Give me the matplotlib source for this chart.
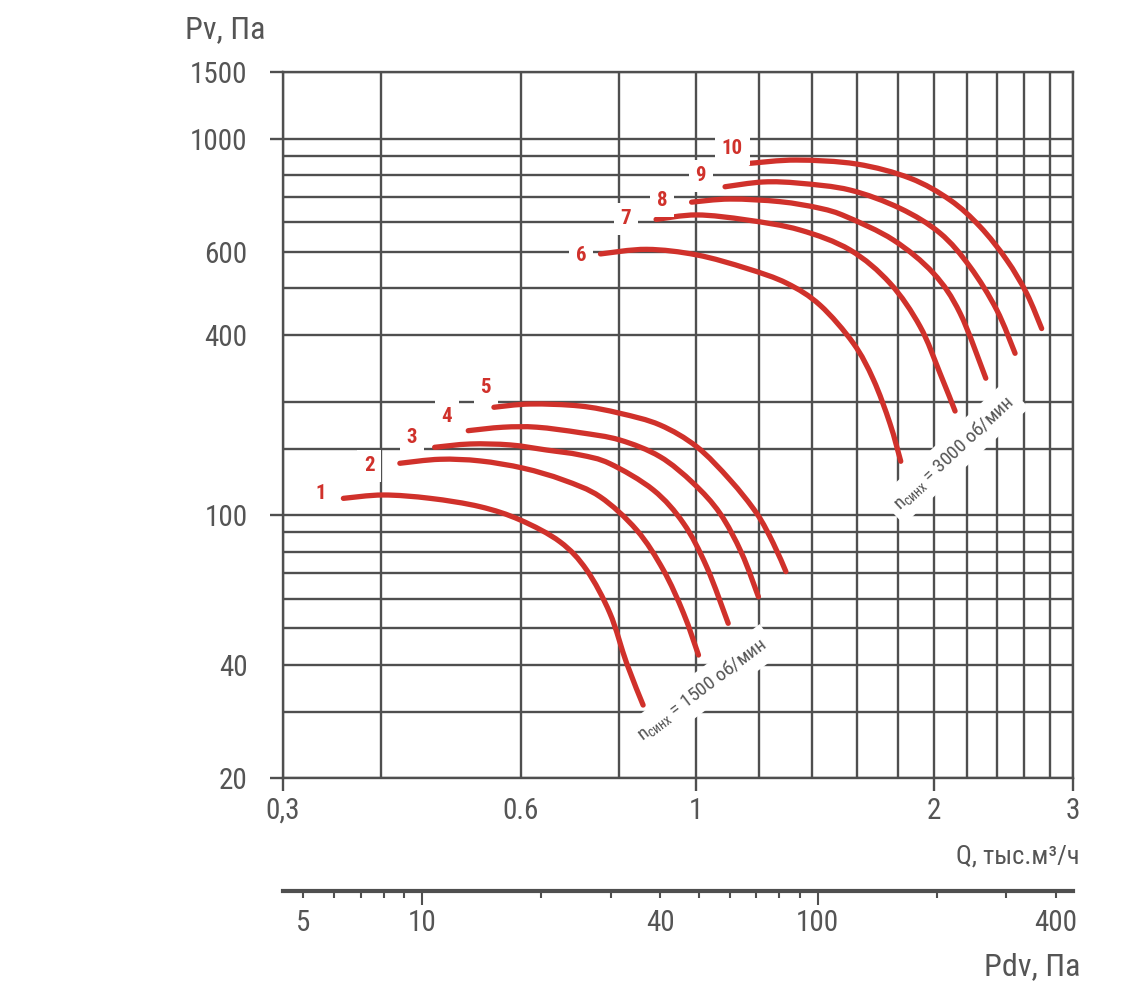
import os
import numpy as np
import matplotlib
matplotlib.use('Agg')
import matplotlib.pyplot as plt
from matplotlib import font_manager
from matplotlib.path import Path
from matplotlib.patches import PathPatch

# fan curves: Q in thousand m3/h, Pv in Pa
q1 = [0.358, 0.402, 0.461, 0.533, 0.599, 0.673, 0.727, 0.778, 0.817, 0.857]
p1 = [110.8, 113.1, 110.8, 105.3, 97.1, 84.9, 71.5, 54.9, 40.4, 31.3]
q2 = [0.422, 0.474, 0.533, 0.605, 0.679, 0.756, 0.841, 0.909, 0.964, 1.007]
p2 = [137.3, 140.7, 139.3, 133.2, 124.0, 111.9, 91.3, 71.5, 54.9, 42.5]
q3 = [0.467, 0.518, 0.582, 0.647, 0.713, 0.778, 0.883, 0.964, 1.031, 1.098]
p3 = [151.4, 154.5, 153.6, 148.9, 144.5, 137.0, 116.6, 95.1, 73.0, 51.6]
q4 = [0.515, 0.570, 0.629, 0.713, 0.801, 0.900, 0.992, 1.072, 1.142, 1.199]
p4 = [167.6, 171.2, 171.2, 165.6, 158.3, 143.0, 121.5, 101.1, 79.2, 60.7]
q5 = [0.555, 0.617, 0.713, 0.801, 0.900, 1.002, 1.104, 1.193, 1.252, 1.299]
p5 = [193.4, 197.3, 194.9, 186.4, 173.6, 151.9, 124.0, 101.1, 84.2, 70.8]
q6 = [0.757, 0.866, 1.002, 1.159, 1.302, 1.435, 1.581, 1.676, 1.759, 1.815]
p6 = [494, 508, 491, 452, 413, 361, 286, 229, 175, 139]
q7 = [0.890, 1.002, 1.159, 1.353, 1.566, 1.759, 1.920, 2.035, 2.126]
p7 = [610, 627, 608, 572, 506, 413, 317, 238, 189]
q8 = [0.987, 1.104, 1.277, 1.435, 1.550, 1.776, 1.996, 2.157, 2.325]
p8 = [678, 691, 680, 653, 620, 538, 439, 344, 231]
q9 = [1.088, 1.216, 1.353, 1.566, 1.811, 2.035, 2.220, 2.400, 2.532]
p9 = [745, 767, 761, 730, 653, 561, 457, 351, 269]
q10 = [1.172, 1.340, 1.596, 1.865, 2.095, 2.286, 2.471, 2.619, 2.736]
p10 = [860, 877, 856, 785, 687, 584, 476, 388, 313]

curves_q = [q1, q2, q3, q4, q5, q6, q7, q8, q9, q10]
curves_p = [p1, p2, p3, p4, p5, p6, p7, p8, p9, p10]

# curve number labels
label_q = [0.335, 0.386, 0.437, 0.484, 0.542, 0.715, 0.815, 0.906, 1.014, 1.111]
label_p = [114.3, 135.1, 160.6, 182.6, 218.6, 489, 612, 684, 796, 943]

# speed notes
speed_text = ['1500', '3000']
speed_q = [1.018, 2.12]
speed_p = [34.3, 146.2]
speed_rot = [37, 43]

# grid and ticks
grid_q = [0.3, 0.4, 0.6, 0.8, 1.0, 1.2, 1.4, 1.6, 1.8, 2.0, 2.2, 2.4, 2.6, 2.8, 3.0]
grid_p = [20, 30, 40, 50, 60, 70, 80, 90, 100, 150, 200, 300, 400, 500, 600, 700, 800, 900, 1000, 1500]
xt_major = [0.3, 1, 2, 3]
xt_major_lab = ['0,3', '1', '2', '3']
xt_minor = [0.6]
xt_minor_lab = ['0.6']
yt_major = [20, 100, 1000, 1500]
yt_major_lab = ['20', '100', '1000', '1500']
yt_minor = [40, 300, 500]
yt_minor_lab = ['40', '400', '600']

pdv_major = [10, 100]
pdv_minor = [5, 6, 7, 8, 9, 20, 30, 40, 50, 60, 70, 80, 90, 200, 300, 400]
pdv_minor_lab = ['5', '', '', '', '', '', '', '40', '', '', '', '', '', '', '', '400']


def pick_font():
    keys = ['robotocondensed', 'liberationsansnarrow', 'notosans-condensed', 'notosanscondensed',
            'opensans-condensed', 'opensanscondensed', 'opensans_condensed', 'dejavusanscondensed']
    ents = font_manager.fontManager.ttflist
    for k in keys:
        for f in ents:
            fn = os.path.basename(f.fname).lower().replace(' ', '')
            if fn.startswith(k):
                return f.name, f.stretch
    for f in ents:
        fn = f.fname.lower()
        if 'condensed' in fn or 'narrow' in fn:
            return f.name, f.stretch
    return 'DejaVu Sans', 'normal'


FONT, STRETCH = pick_font()
plt.rcParams['font.family'] = [FONT, 'DejaVu Sans']
plt.rcParams['font.stretch'] = STRETCH
plt.rcParams['mathtext.fontset'] = 'custom'
plt.rcParams['mathtext.rm'] = FONT

RED = '#d0312b'
GRID = '#4f4f4f'
TXT = '#555555'
W, H = 1122, 996


def smooth(xs, ys):
    # cubic pieces through the read points, built in log space
    lx, ly = np.log10(xs), np.log10(ys)
    n = len(lx)
    verts = [(xs[0], ys[0])]
    codes = [Path.MOVETO]
    for i in range(n - 1):
        a, b = max(i - 1, 0), min(i + 2, n - 1)
        c1 = (lx[i] + (lx[i + 1] - lx[a]) / 6, ly[i] + (ly[i + 1] - ly[a]) / 6)
        c2 = (lx[i + 1] - (lx[b] - lx[i]) / 6, ly[i + 1] - (ly[b] - ly[i]) / 6)
        verts += [(10 ** c1[0], 10 ** c1[1]), (10 ** c2[0], 10 ** c2[1]), (xs[i + 1], ys[i + 1])]
        codes += [Path.CURVE4] * 3
    return Path(verts, codes)


fig = plt.figure(figsize=(W / 100, H / 100), dpi=100)
ax = fig.add_axes([282.7 / W, 1 - 778.3 / H, 790.6 / W, 706 / H])
ax.set_xscale('log')
ax.set_yscale('log')
ax.set_xlim(0.3, 3)
ax.set_ylim(20, 1500)

for q in grid_q:
    ax.axvline(q, color=GRID, lw=1.7, zorder=1)
for p in grid_p:
    ax.axhline(p, color=GRID, lw=1.7, zorder=1)
for s in ax.spines.values():
    s.set_color(GRID)
    s.set_linewidth(1.7)

ax.set_xticks(xt_major, xt_major_lab)
ax.set_xticks(xt_minor, xt_minor_lab, minor=True)
ax.set_yticks(yt_major, yt_major_lab)
ax.set_yticks(yt_minor, yt_minor_lab, minor=True)
ax.tick_params(which='major', length=9.4, width=1.7, color=GRID, labelsize=21, labelcolor=TXT)
ax.tick_params(axis='x', which='major', pad=4)
ax.tick_params(axis='y', which='major', pad=16)
ax.tick_params(which='minor', length=0, labelsize=21, labelcolor=TXT)
ax.tick_params(axis='x', which='minor', pad=4 + 9.4)
ax.tick_params(axis='y', which='minor', pad=16 + 9.4)

for q, p in zip(curves_q, curves_p):
    ax.add_patch(PathPatch(smooth(q, p), fill=False, ec=RED, lw=3.8,
                           capstyle='round', joinstyle='round', zorder=3))

for i, (q, p) in enumerate(zip(label_q, label_p)):
    ax.text(q, p, str(i + 1), color=RED, fontsize=15, fontweight='bold', ha='center', va='center',
            bbox=dict(fc='white', ec='none', pad=5), zorder=4)

for t, q, p, r in zip(speed_text, speed_q, speed_p, speed_rot):
    ax.text(q, p, r'n$_{\mathregular{синх}}$ = ' + t + ' об/мин', color=TXT, fontsize=14,
            rotation=r, ha='center', va='center', rotation_mode='anchor',
            bbox=dict(fc='white', ec='none', pad=5), zorder=4)

# dynamic pressure scale
axp = fig.add_axes([282.7 / W, 1 - 891 / H, 790.6 / W, 0.001])
axp.set_xscale('log')
axp.set_xlim(4.44, 443)
axp.patch.set_visible(False)
for s in ['top', 'left', 'right']:
    axp.spines[s].set_visible(False)
axp.spines['bottom'].set_color(GRID)
axp.spines['bottom'].set_linewidth(3)
axp.set_yticks([])
axp.set_xticks(pdv_major, ['10', '100'])
axp.set_xticks(pdv_minor, pdv_minor_lab, minor=True)
axp.tick_params(which='major', length=10, width=1.5, color=GRID, pad=3, labelsize=21, labelcolor=TXT)
axp.tick_params(which='minor', length=5, width=1.5, color=GRID, pad=8, labelsize=21, labelcolor=TXT)

fig.text(185 / W, 1 - 30 / H, 'Pv, Па', ha='left', va='center', fontsize=23, color=TXT)
fig.text(1080 / W, 1 - 856 / H, 'Q, тыс.м³/ч', ha='right', va='center', fontsize=19, color=TXT)
fig.text(1080 / W, 1 - 967 / H, 'Pdv, Па', ha='right', va='center', fontsize=23, color=TXT)

fig.savefig('out.png', dpi=100, facecolor='white')
